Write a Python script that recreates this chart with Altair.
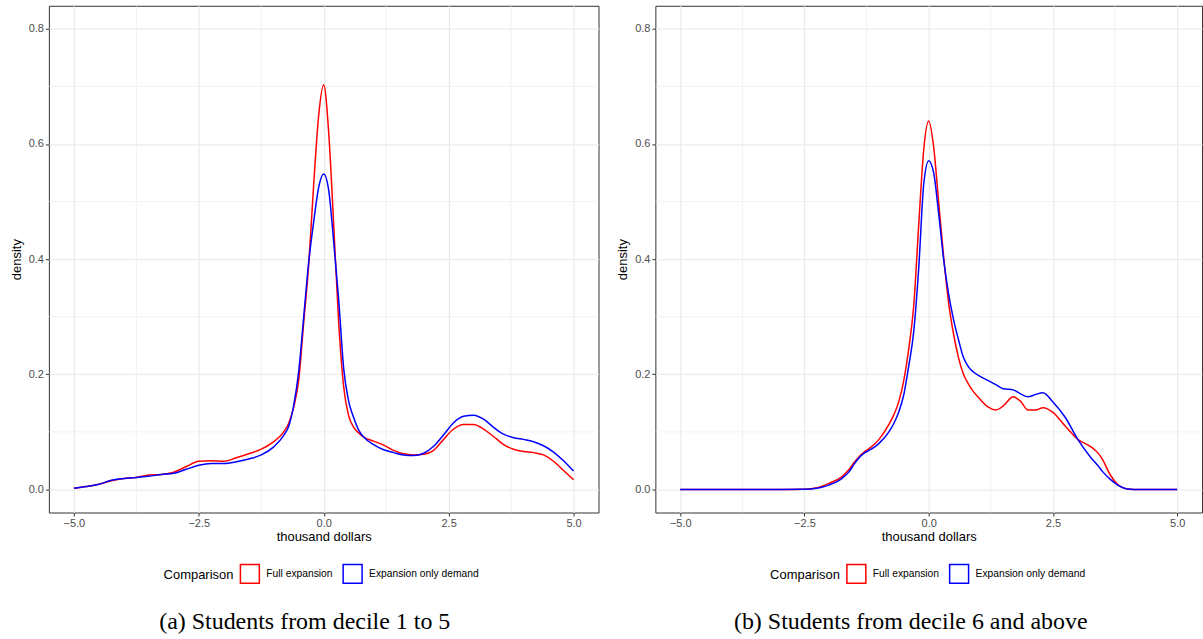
import altair as alt
import pandas as pd

# ---- data ----
series = ["Full expansion", "Expansion only demand"]
colors = ["#FF0000", "#0000FF"]

x_a = [-5.0, -4.75, -4.5, -4.25, -4.0, -3.75, -3.5, -3.25, -3.0, -2.75, -2.5, -2.25, -2.0,
       -1.75, -1.5, -1.25, -1.0, -0.8, -0.7, -0.6, -0.5, -0.4, -0.3, -0.2, -0.1, 0.0,
       0.1, 0.2, 0.3, 0.4, 0.5, 0.6, 0.7, 0.8, 1.0, 1.2, 1.4, 1.6, 1.8, 2.0, 2.2, 2.4,
       2.6, 2.8, 3.0, 3.2, 3.4, 3.6, 3.8, 4.0, 4.2, 4.4, 4.6, 4.8, 5.0]
red_a = [0.002, 0.005, 0.009, 0.015, 0.019, 0.021, 0.025, 0.026, 0.030, 0.040, 0.049, 0.050, 0.049,
         0.055, 0.062, 0.070, 0.083, 0.100, 0.115, 0.143, 0.190, 0.290, 0.390, 0.530, 0.650, 0.703,
         0.620, 0.460, 0.290, 0.178, 0.128, 0.108, 0.098, 0.091, 0.084, 0.077, 0.068, 0.062, 0.060,
         0.061, 0.068, 0.087, 0.105, 0.113, 0.113, 0.105, 0.092, 0.078, 0.070, 0.066, 0.064, 0.060,
         0.049, 0.033, 0.017]
blue_a = [0.002, 0.005, 0.009, 0.016, 0.019, 0.021, 0.023, 0.026, 0.028, 0.035, 0.042, 0.045, 0.045,
          0.048, 0.053, 0.060, 0.074, 0.094, 0.110, 0.146, 0.205, 0.300, 0.395, 0.465, 0.525, 0.548,
          0.520, 0.430, 0.330, 0.210, 0.153, 0.125, 0.103, 0.091, 0.078, 0.069, 0.064, 0.060, 0.059,
          0.063, 0.075, 0.095, 0.116, 0.127, 0.129, 0.122, 0.108, 0.096, 0.090, 0.087, 0.083, 0.076,
          0.065, 0.050, 0.032]

x_b = [-5.0, -4.0, -3.0, -2.5, -2.25, -2.0, -1.75, -1.6, -1.5, -1.4, -1.3, -1.2, -1.1, -1.0, -0.8,
       -0.7, -0.6, -0.5, -0.4, -0.3, -0.2, -0.1, 0.0, 0.1, 0.2, 0.3, 0.4, 0.5, 0.6, 0.7, 0.8, 0.9,
       1.0, 1.2, 1.35, 1.5, 1.7, 1.85, 2.0, 2.15, 2.3, 2.5, 2.75, 3.0, 3.25, 3.4, 3.5, 3.65, 3.8,
       4.0, 4.25, 5.0]
red_b = [0.0, 0.0, 0.0, 0.0005, 0.003, 0.011, 0.022, 0.035, 0.047, 0.057, 0.065, 0.071, 0.078,
         0.087, 0.113, 0.130, 0.153, 0.190, 0.245, 0.320, 0.460, 0.590, 0.640, 0.595, 0.500, 0.405,
         0.325, 0.270, 0.229, 0.200, 0.183, 0.170, 0.160, 0.143, 0.138, 0.145, 0.161, 0.153, 0.138,
         0.138, 0.142, 0.134, 0.110, 0.087, 0.075, 0.064, 0.052, 0.026, 0.009, 0.001, 0.0, 0.0]
blue_b = [0.0, 0.0, 0.0, 0.0003, 0.002, 0.008, 0.019, 0.031, 0.044, 0.055, 0.063, 0.068, 0.073,
          0.080, 0.100, 0.115, 0.135, 0.165, 0.215, 0.275, 0.385, 0.530, 0.571, 0.550, 0.480, 0.400,
          0.340, 0.295, 0.260, 0.229, 0.213, 0.204, 0.198, 0.189, 0.182, 0.175, 0.173, 0.166, 0.161,
          0.165, 0.168, 0.152, 0.125, 0.087, 0.057, 0.042, 0.031, 0.018, 0.008, 0.001, 0.0, 0.0]

x_major = [-5.0, -2.5, 0.0, 2.5, 5.0]
x_minor = [-3.75, -1.25, 1.25, 3.75]
y_major = [0.0, 0.2, 0.4, 0.6, 0.8]
y_minor = [0.1, 0.3, 0.5, 0.7]

captions = ["(a) Students from decile 1 to 5", "(b) Students from decile 6 and above"]


def frame(xs, red, blue):
    rows = [{"x": x, "density": v, "Comparison": series[0]} for x, v in zip(xs, red)]
    rows += [{"x": x, "density": v, "Comparison": series[1]} for x, v in zip(xs, blue)]
    return pd.DataFrame(rows)


def panel(df, width, caption, dx):
    xs = alt.Scale(domain=[-5.5, 5.5], nice=False, zero=False)
    ys = alt.Scale(domain=[-0.04, 0.84], nice=False, zero=False)
    minor_x = alt.Chart(pd.DataFrame({"x": x_minor})).mark_rule(
        color="#EBEBEB", strokeWidth=0.7).encode(x=alt.X("x:Q", scale=xs))
    minor_y = alt.Chart(pd.DataFrame({"density": y_minor})).mark_rule(
        color="#EBEBEB", strokeWidth=0.7).encode(y=alt.Y("density:Q", scale=ys))
    lines = alt.Chart(df).mark_line(strokeWidth=1.5, interpolate="monotone").encode(
        x=alt.X("x:Q", scale=xs,
                axis=alt.Axis(values=x_major, format=".1f", title="thousand dollars",
                              titlePadding=2)),
        y=alt.Y("density:Q", scale=ys,
                axis=alt.Axis(values=y_major, format=".1f", title="density",
                              titlePadding=5)),
        color=alt.Color("Comparison:N",
                        scale=alt.Scale(domain=series, range=colors),
                        legend=alt.Legend(orient="none", legendX=115, legendY=559,
                                          direction="horizontal", titleOrient="left",
                                          titleAnchor="middle", titleBaseline="middle",
                                          symbolType="square", symbolSize=361,
                                          symbolStrokeWidth=1.5, symbolFillColor="white",
                                          labelFontSize=10.3, titleFontSize=13,
                                          titleFontWeight="normal", titleColor="black",
                                          labelColor="black", titlePadding=5,
                                          labelOffset=6, columnPadding=7, padding=0,
                                          titleFont="Liberation Sans",
                                          labelFont="Liberation Sans"))
    )
    return alt.layer(minor_x, minor_y, lines).properties(
        width=width, height=508,
        title=alt.TitleParams(text=caption, orient="bottom", anchor="middle",
                              font="Liberation Serif", fontSize=24, fontWeight="normal",
                              color="black", dx=dx, offset=24, baseline="top"))


left = panel(frame(x_a, red_a, blue_a), 551, captions[0], -19)
right = panel(frame(x_b, red_b, blue_b), 548, captions[1], -18)

chart = alt.hconcat(left, right, spacing=57, bounds="flush").resolve_scale(
    color="independent").resolve_legend(color="independent").properties(
    padding={"left": 9, "top": 4, "right": 0, "bottom": 0}
).configure_view(stroke="#333333", strokeWidth=1).configure_axis(
    labelFont="Liberation Sans", titleFont="Liberation Sans", labelFontSize=11,
    titleFontSize=13, labelColor="#4D4D4D", titleColor="black", titleFontWeight="normal",
    tickColor="#333333", tickSize=3.5, domain=False, gridColor="#EBEBEB", gridWidth=1.3,
    labelPadding=2)

chart.save("out.html", embed_options={"renderer": "svg", "actions": False})
